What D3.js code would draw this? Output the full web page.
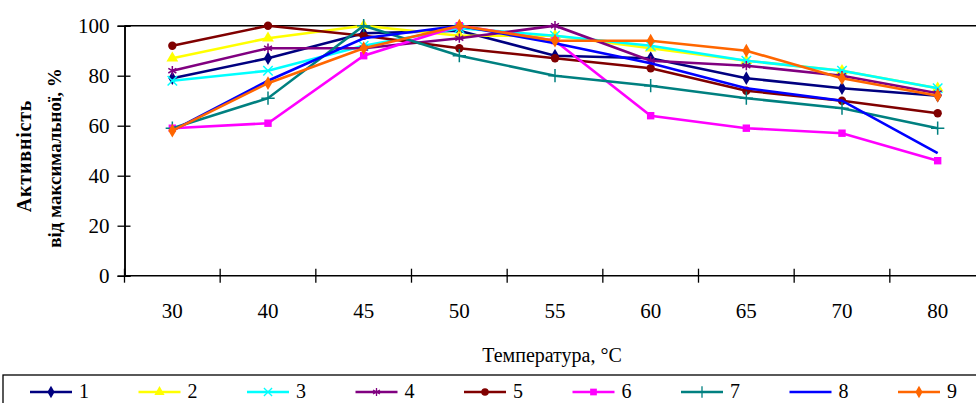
<!DOCTYPE html>
<html>
<head>
<meta charset="utf-8">
<script src="https://cdn.jsdelivr.net/npm/d3@7"></script>
<style>
  body { margin: 0; background: #fff; }
  svg { display: block; font-family: "Liberation Serif", "Times New Roman", serif; }
</style>
</head>
<body>
<svg id="chart" width="976" height="403"></svg>
<script>
// temperatures (categories)
const temps = ["30", "40", "45", "50", "55", "60", "65", "70", "80"];
const yTicks = [0, 20, 40, 60, 80, 100];

// activity, % of maximum, per series
const s1 = [79, 87, 97, 98, 88, 87, 79, 75, 72];
const s2 = [87, 95, 100, 96, 96, 91, 86, 82, 75];
const s3 = [78, 82, 92, 99, 96, 92, 86, 82, 75];
const s4 = [82, 91, 91, 95, 100, 86, 84, 80, 73];
const s5 = [92, 100, 96, 91, 87, 83, 74, 70, 65];
const s6 = [59, 61, 88, 100, 94, 64, 59, 57, 46];
const s7 = [59, 71, 100, 88, 80, 76, 71, 67, 59];
const s8 = [58, 78, 95, 100, 93, 85, 75, 70, 49];
const s9 = [58, 77, 91, 100, 94, 94, 90, 79, 72];

const seriesNames = ["1", "2", "3", "4", "5", "6", "7", "8", "9"];
const seriesValues = [s1, s2, s3, s4, s5, s6, s7, s8, s9];
const colors = ["#000080", "#ffff00", "#00ffff", "#800080", "#800000", "#ff00ff", "#008080", "#0000ff", "#ff6600"];
const markers = ["diamond", "triangle", "x", "asterisk", "circle", "square", "plus", "none", "diamond"];

const svg = d3.select("#chart");

const x = d3.scaleBand().domain(temps).range([124.5, 985.5]).padding(0);
const y = d3.scaleLinear().domain([0, 100]).range([275.7, 25.7]);

// top border line of plot area
svg.append("line")
    .attr("x1", 124.5).attr("x2", 976)
    .attr("y1", y(100)).attr("y2", y(100))
    .attr("stroke", "#000").attr("stroke-width", 1.5);

// y axis (ticks crossing the axis)
const yAxis = svg.append("g")
    .attr("transform", "translate(124.5,0)")
    .call(d3.axisLeft(y).tickValues(yTicks).tickSize(7).tickPadding(8));
svg.append("g")
    .attr("transform", "translate(124.5,0)")
    .call(d3.axisRight(y).tickValues(yTicks).tickSize(6).tickFormat(""));

// x axis: labels at band centres, ticks at band edges
const xAxis = svg.append("g")
    .attr("transform", `translate(0,${y(0)})`)
    .call(d3.axisBottom(x).tickSize(0).tickPadding(27));
xAxis.select(".domain").attr("d", `M124.5,0H976`);
const edges = temps.map(t => x(t)).concat([x.range()[1]]);
svg.append("g").selectAll("line")
    .data(edges)
    .enter()
    .append("line")
    .attr("x1", d => d).attr("x2", d => d)
    .attr("y1", y(0) - 7).attr("y2", y(0) + 7)
    .attr("stroke", "#000").attr("stroke-width", 1.3);

svg.selectAll(".domain").attr("stroke", "#000").attr("stroke-width", 1.5);
svg.selectAll(".tick line").attr("stroke", "#000").attr("stroke-width", 1.3);
svg.selectAll(".tick text")
    .attr("font-family", "Liberation Serif, serif")
    .attr("font-size", 21)
    .attr("fill", "#000");

// axis titles
svg.append("text")
    .attr("transform", "translate(31,156) rotate(-90)")
    .attr("text-anchor", "middle")
    .attr("font-size", 20)
    .attr("font-weight", "bold")
    .attr("letter-spacing", 0.8)
    .text("Активність");
svg.append("text")
    .attr("transform", "translate(61,158) rotate(-90)")
    .attr("text-anchor", "middle")
    .attr("font-size", 19)
    .attr("font-weight", "bold")
    .text("від максимальної, %");
svg.append("text")
    .attr("x", 552).attr("y", 362)
    .attr("text-anchor", "middle")
    .attr("font-size", 20)
    .text("Температура, °C");

function markerPath(type, size) {
    const map = {
        diamond: d3.symbolDiamond,
        triangle: d3.symbolTriangle,
        circle: d3.symbolCircle,
        square: d3.symbolSquare,
        x: d3.symbolX,
        asterisk: d3.symbolAsterisk,
        plus: d3.symbolPlus
    };
    return d3.symbol().type(map[type]).size(size)();
}
const strokeMarkers = ["x", "asterisk", "plus"];

const line = d3.line()
    .x((d, i) => x(temps[i]) + x.bandwidth() / 2)
    .y(d => y(d));

seriesValues.forEach((vals, k) => {
    const g = svg.append("g");
    g.append("path")
        .attr("d", line(vals))
        .attr("fill", "none")
        .attr("stroke", colors[k])
        .attr("stroke-width", 2.6);
    if (markers[k] !== "none") {
        const stroked = strokeMarkers.includes(markers[k]);
        g.selectAll("path.m")
            .data(vals)
            .enter()
            .append("path")
            .attr("class", "m")
            .attr("transform", (d, i) => `translate(${x(temps[i]) + x.bandwidth() / 2},${y(d)})`)
            .attr("d", markerPath(markers[k], stroked ? 60 : (markers[k] === "triangle" ? 60 : 55)))
            .attr("fill", stroked ? "none" : colors[k])
            .attr("stroke", colors[k])
            .attr("stroke-width", stroked ? 1.5 : 0);
    }
});

// legend
svg.append("rect")
    .attr("x", 3).attr("y", 375)
    .attr("width", 990).attr("height", 40)
    .attr("fill", "#fff")
    .attr("stroke", "#000").attr("stroke-width", 1.3);

const legend = svg.append("g").selectAll("g")
    .data(seriesNames)
    .enter()
    .append("g")
    .attr("transform", (d, i) => `translate(${30 + i * 108.5},392)`);
legend.append("line")
    .attr("x1", 0).attr("x2", 42)
    .attr("stroke", (d, i) => colors[i])
    .attr("stroke-width", 2.6);
legend.each(function(d, i) {
    if (markers[i] === "none") return;
    const stroked = strokeMarkers.includes(markers[i]);
    d3.select(this).append("path")
        .attr("transform", "translate(21,0)")
        .attr("d", markerPath(markers[i], 45))
        .attr("fill", stroked ? "none" : colors[i])
        .attr("stroke", colors[i])
        .attr("stroke-width", stroked ? 1.3 : 0);
});
legend.append("text")
    .attr("x", 49).attr("y", 6)
    .attr("font-size", 20)
    .text(d => d);
</script>
</body>
</html>
